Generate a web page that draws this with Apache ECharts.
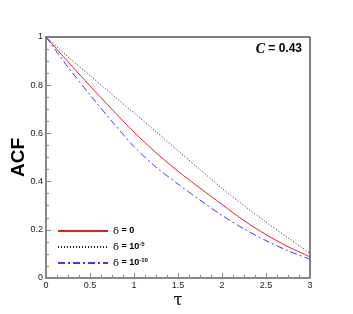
<!DOCTYPE html>
<html><head><meta charset="utf-8">
<script src="https://cdn.jsdelivr.net/npm/echarts@6/dist/echarts.min.js"></script>
<style>html,body{margin:0;padding:0;background:#fff}#c{width:353px;height:314px}</style>
</head><body><div id="c"></div>
<script>
const tau = [0, 0.25, 0.5, 0.75, 1.0, 1.25, 1.5, 1.75, 2.0, 2.25, 2.5, 2.75, 3.0];
const acfDelta0 = [1, 0.897, 0.797, 0.70, 0.605, 0.52, 0.443, 0.373, 0.305, 0.238, 0.18, 0.13, 0.088];
const acfDelta5 = [1, 0.918, 0.84, 0.762, 0.685, 0.607, 0.528, 0.45, 0.372, 0.30, 0.232, 0.166, 0.103];
const acfDelta10 = [1, 0.875, 0.76, 0.65, 0.545, 0.46, 0.39, 0.323, 0.26, 0.204, 0.155, 0.113, 0.078];
const xTicks = [0, 0.5, 1, 1.5, 2, 2.5, 3];
const yTicks = [0, 0.2, 0.4, 0.6, 0.8, 1];
const seriesNames = ['d0', 'd5', 'd10'];

const chart = echarts.init(document.getElementById('c'), null, {renderer: 'canvas'});
const pair = (ys) => tau.map((t, i) => [t, ys[i]]);
const legendText = {
  d0: '{g|δ}{b| = 0}',
  d5: '{g|δ}{b| = 10}{s|-5}',
  d10: '{g|δ}{b| = 10}{s|-10}'
};
const fmt = (v) => String(v);
chart.setOption({
  animation: false,
  grid: {left: 46, right: 43, top: 37, bottom: 36, show: true, borderColor: '#000', borderWidth: 1,
         containLabel: false, outerBoundsMode: 'none'},
  xAxis: {
    type: 'value', min: 0, max: 3, interval: 0.5,
    name: 'τ', nameLocation: 'middle', nameGap: 15, nameMoveOverlap: false,
    nameTextStyle: {fontFamily: 'DejaVu Serif', fontSize: 16, color: '#000'},
    axisLine: {show: true, onZero: false, lineStyle: {color: '#888', width: 2}},
    axisTick: {show: true, inside: true, length: 5, lineStyle: {color: '#888', width: 1}},
    minorTick: {show: true, splitNumber: 4, length: 3, lineStyle: {color: '#888'}},
    splitLine: {show: false},
    axisLabel: {fontFamily: 'Liberation Sans', fontSize: 9, color: '#222', margin: 3, formatter: fmt}
  },
  yAxis: {
    type: 'value', min: 0, max: 1, interval: 0.2,
    name: 'ACF', nameLocation: 'middle', nameGap: 18, nameRotate: 90, nameMoveOverlap: false,
    nameTextStyle: {fontFamily: 'Liberation Sans', fontSize: 19, fontWeight: 'bold', color: '#000'},
    axisLine: {show: true, onZero: false, lineStyle: {color: '#888', width: 2}},
    axisTick: {show: true, inside: true, length: 5, lineStyle: {color: '#888', width: 1}},
    minorTick: {show: true, splitNumber: 4, length: 3, lineStyle: {color: '#888'}},
    splitLine: {show: false},
    axisLabel: {fontFamily: 'Liberation Sans', fontSize: 9, color: '#222', margin: 3, formatter: fmt}
  },
  legend: {
    orient: 'vertical', left: 57, top: 226, padding: 0, itemWidth: 50, itemHeight: 8, itemGap: 5,
    data: seriesNames,
    itemStyle: {opacity: 0},
    formatter: (n) => legendText[n],
    textStyle: {
      rich: {
        g: {fontFamily: 'DejaVu Serif', fontSize: 10, color: '#000'},
        b: {fontFamily: 'Liberation Sans', fontSize: 9, fontWeight: 'bold', color: '#000'},
        s: {fontFamily: 'Liberation Sans', fontSize: 6, fontWeight: 'bold', color: '#000', padding: [0, 0, 6, 0]}
      }
    }
  },
  graphic: [{
    type: 'text', right: 51, top: 42,
    style: {
      text: '{c|C}{b| = 0.43}',
      rich: {
        c: {fontFamily: 'Liberation Serif', fontStyle: 'italic', fontWeight: 'bold', fontSize: 14, fill: '#000'},
        b: {fontFamily: 'Liberation Sans', fontWeight: 'bold', fontSize: 12, fill: '#000'}
      }
    }
  }],
  series: [
    {name: 'd0', type: 'line', data: pair(acfDelta0), smooth: 0.3, symbol: 'none',
     lineStyle: {color: '#e02020', width: 1}, itemStyle: {color: '#e02020'}},
    {name: 'd5', type: 'line', data: pair(acfDelta5), smooth: 0.3, symbol: 'none',
     lineStyle: {color: '#222', width: 1, type: [1, 2]}, itemStyle: {color: '#222'}},
    {name: 'd10', type: 'line', data: pair(acfDelta10), smooth: 0.3, symbol: 'none',
     lineStyle: {color: '#3a3aff', width: 1, type: [7, 3, 2, 3]}, itemStyle: {color: '#3a3aff'}}
  ]
});
</script></body></html>
